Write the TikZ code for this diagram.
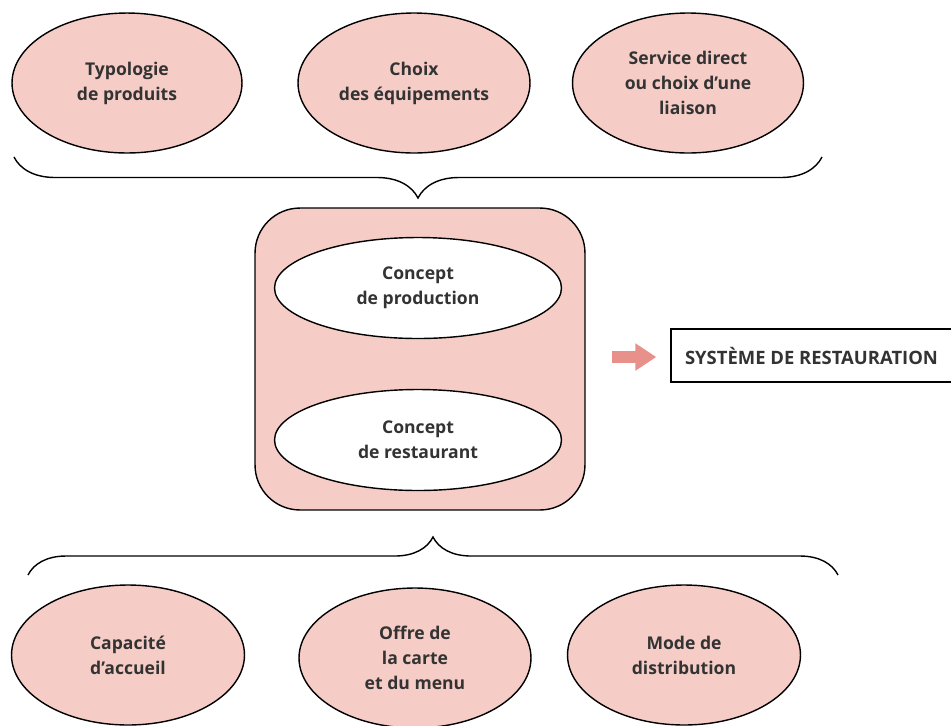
\documentclass[tikz,border=0pt]{standalone}
\usepackage{fontspec}
\setmainfont{Open Sans}
\usetikzlibrary{shapes.geometric, arrows.meta, positioning, decorations.pathreplacing}

\definecolor{rosefill}{HTML}{F5CDC6}
\definecolor{rosearrow}{HTML}{E8908A}
\definecolor{inktext}{HTML}{333333}

\tikzset{
  bubble/.style={ellipse, draw, fill=rosefill, text=inktext, align=center,
    inner sep=0pt, font=\bfseries\fontsize{10}{14.2}\selectfont},
  concept/.style={bubble, fill=white, minimum width=5.74cm, minimum height=2.02cm},
  bracket/.style={decorate, decoration={brace, amplitude=#1}},
}

\begin{document}
\begin{tikzpicture}[x=0.02cm, y=-0.02cm, line width=0.8pt]
    \useasboundingbox (0,0) rectangle (951,725);

    % Top choices
    \node[bubble, minimum width=4.6cm, minimum height=2.8cm] (typo) at (127,83) {Typologie\\de produits};
    \node[bubble, minimum width=4.64cm, minimum height=2.8cm] (equip) at (414,83) {Choix\\des équipements};
    \node[bubble, minimum width=4.62cm, minimum height=2.8cm] (liaison) at (688,83) {Service direct\\ou choix d’une\\liaison};

    % Brace under top choices
    \draw[bracket=0.82cm] (822,157) -- (14,157);

    % Central block
    \node[draw, fill=rosefill, rounded corners=0.9cm, minimum width=6.6cm, minimum height=6.04cm] (bloc) at (420,359) {};
    \node[concept] (prod) at (418,288) {Concept\\de production};
    \node[concept] (resto) at (418,440) {Concept\\de restaurant};

    % Result
    \node[draw, text=inktext, font=\bfseries\fontsize{10.5}{14}\selectfont, minimum width=5.62cm, minimum height=1.06cm] (sys) at (811.5,355.5) {SYSTÈME DE RESTAURATION};
    \coordinate (tail) at (612,357);
    \draw[rosearrow, line width=0.24cm, -{Triangle[length=0.42cm, width=0.52cm]}, shorten >=0.28cm] (tail) -- (tail -| sys.west);

    % Brace above bottom choices
    \draw[bracket=0.76cm] (28,575) -- (838,575);

    % Bottom choices
    \node[bubble, minimum width=4.66cm, minimum height=2.8cm] (accueil) at (128,655) {Capacité\\d’accueil};
    \node[bubble, minimum width=4.64cm, minimum height=2.8cm] (carte) at (415,658) {Offre de\\la carte\\et du menu};
    \node[bubble, minimum width=4.66cm, minimum height=2.8cm] (distrib) at (684,655) {Mode de\\distribution};
\end{tikzpicture}
\end{document}
